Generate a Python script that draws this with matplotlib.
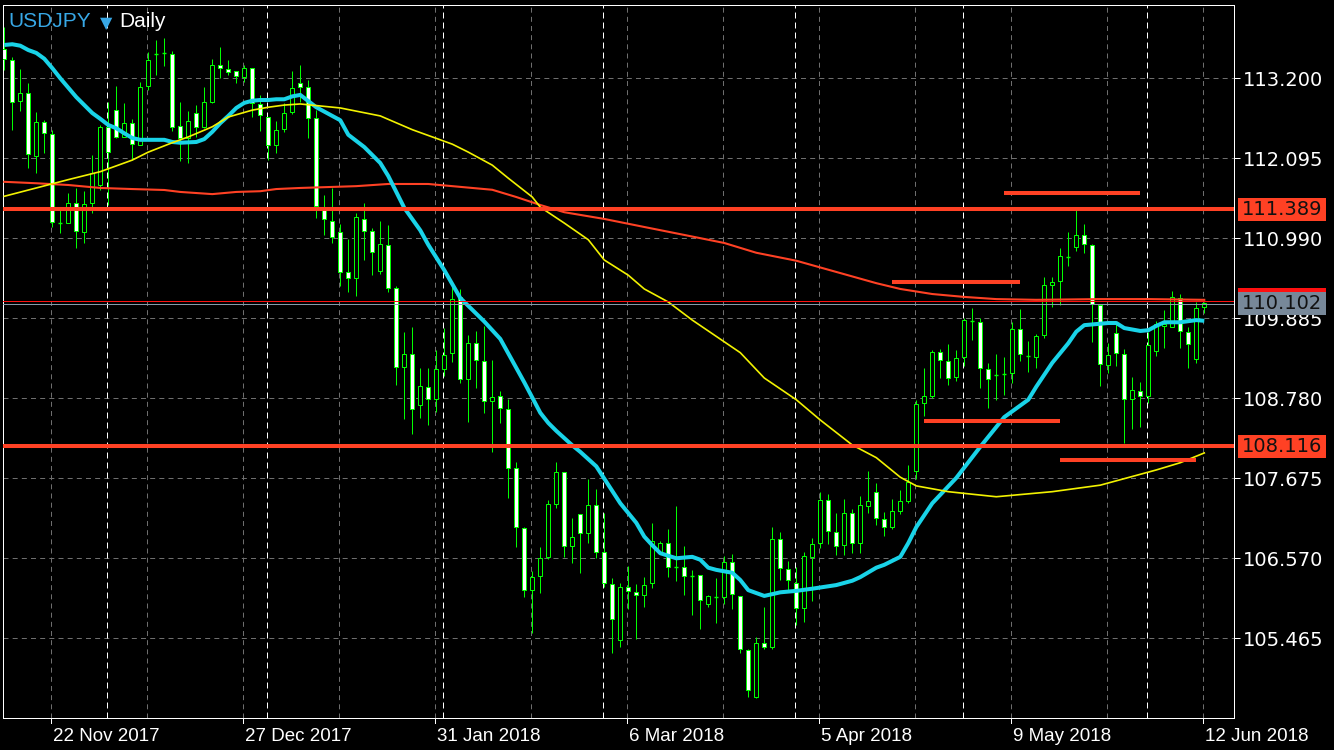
import matplotlib
matplotlib.use("Agg")
import matplotlib.pyplot as plt
import matplotlib.transforms as mtransforms
from matplotlib.patches import Rectangle
from matplotlib import font_manager

plt.rcParams['lines.scale_dashes'] = False

# ---------------- data ----------------
symbol = "USDJPY"
timeframe = "Daily"

bar_index = list(range(-6, 145))
opens = [113.60, 113.45, 112.89, 113.00, 112.13, 112.60, 112.43, 111.20, 111.20, 111.48,
         111.08, 111.48, 111.73, 112.53, 112.76, 112.39, 112.58, 112.28, 113.09, 113.54,
         113.55, 113.54, 112.54, 112.375, 112.72, 112.53, 112.87, 113.38, 113.33, 113.30,
         113.22, 113.34, 112.85, 112.67, 112.28, 112.50, 112.73, 113.14, 113.08, 112.65,
         111.38, 111.23, 111.08, 110.525, 110.44, 111.26, 111.09, 110.54, 110.90, 110.30,
         109.21, 109.39, 108.69, 108.94, 108.77, 109.185, 109.40, 110.18, 109.05, 109.545,
         109.295, 108.74, 108.81, 108.63, 107.82, 106.99, 106.13, 106.32, 106.59, 107.32,
         107.76, 106.74, 107.18, 106.92, 107.30, 106.66, 106.215, 105.44, 106.17, 106.105,
         106.06, 106.23, 106.64, 106.78, 106.45, 106.45, 106.32, 106.34, 105.94, 106.03,
         106.03, 106.52, 106.05, 105.30, 104.655, 105.40, 105.345, 106.84, 106.42, 106.23,
         105.88, 106.59, 106.78, 107.375, 106.93, 106.755, 107.19, 106.78, 107.29, 107.49,
         107.11, 107.00, 107.22, 107.36, 107.775, 108.715, 108.81, 109.42, 109.295, 109.07,
         109.35, 109.85, 109.83, 109.185, 109.10, 109.12, 109.13, 109.74, 109.36, 109.35,
         109.655, 110.345, 110.40, 110.73, 110.87, 111.03, 110.90, 110.07, 109.24, 109.68,
         109.39, 108.77, 108.88, 108.81, 109.43, 109.78, 109.765, 110.16, 109.70, 109.32,
         110.04]
highs = [113.91, 113.49, 113.33, 113.14, 112.73, 112.62, 112.49, 111.41, 111.62, 111.685,
         111.64, 112.14, 112.555, 112.87, 113.09, 112.86, 112.64, 113.15, 113.56, 113.73,
         113.76, 113.57, 112.87, 112.75, 112.83, 113.08, 113.47, 113.63, 113.45, 113.30,
         113.38, 113.34, 112.97, 112.67, 112.61, 112.86, 113.30, 113.38, 113.18, 112.76,
         111.59, 111.685, 111.19, 110.98, 111.34, 111.48, 111.13, 111.23, 111.17, 110.33,
         109.70, 109.77, 109.20, 109.20, 109.45, 109.75, 110.37, 110.29, 109.655, 109.71,
         109.78, 109.31, 108.88, 108.77, 107.90, 107.00, 106.395, 106.73, 107.375, 107.90,
         107.76, 107.13, 107.18, 107.66, 107.53, 107.19, 106.30, 106.23, 106.46, 106.215,
         106.31, 107.06, 106.81, 106.975, 107.29, 106.74, 106.41, 106.34, 106.06, 106.30,
         106.60, 106.63, 106.05, 105.32, 105.48, 105.90, 107.00, 106.93, 106.53, 106.45,
         106.66, 106.85, 107.49, 107.46, 107.19, 107.39, 107.25, 107.43, 107.775, 107.61,
         107.21, 107.39, 107.51, 107.86, 108.76, 109.20, 109.45, 109.46, 109.53, 109.45,
         109.89, 110.03, 109.89, 109.27, 109.39, 109.35, 109.83, 110.01, 109.57, 109.67,
         110.455, 110.455, 110.855, 111.08, 111.38, 111.19, 110.91, 110.08, 109.545, 109.81,
         109.46, 109.07, 109.00, 109.70, 109.85, 110.00, 110.26, 110.22, 109.765, 110.11,
         110.11]
lows = [113.31, 112.49, 112.75, 111.96, 111.89, 112.17, 111.15, 111.06, 111.20, 110.86,
        110.92, 111.34, 111.66, 111.45, 112.375, 112.39, 112.07, 112.28, 113.04, 113.25,
        113.37, 112.47, 112.06, 112.03, 112.39, 112.51, 112.86, 113.20, 113.25, 113.14,
        113.15, 112.67, 112.47, 112.07, 112.17, 112.46, 112.71, 112.87, 112.375, 111.27,
        111.04, 110.92, 110.33, 110.25, 110.19, 110.69, 110.48, 110.50, 110.25, 108.96,
        108.49, 108.29, 108.51, 108.41, 108.59, 109.09, 109.28, 108.99, 108.45, 108.92,
        108.57, 108.04, 108.44, 107.40, 106.73, 106.04, 105.54, 106.09, 106.56, 107.265,
        106.59, 106.505, 106.37, 106.78, 106.575, 106.17, 105.26, 105.345, 105.87, 105.46,
        105.90, 106.16, 106.64, 106.31, 106.26, 106.06, 105.79, 105.595, 105.90, 105.68,
        105.94, 105.87, 105.26, 104.655, 104.64, 105.32, 105.32, 106.27, 106.13, 105.65,
        105.69, 105.98, 106.71, 106.77, 106.61, 106.61, 106.64, 106.64, 107.19, 107.03,
        106.88, 106.975, 107.18, 107.33, 107.665, 108.54, 108.785, 109.06, 108.96, 109.02,
        109.23, 109.59, 108.92, 108.65, 108.76, 108.82, 108.99, 109.295, 109.14, 109.20,
        109.61, 110.04, 110.07, 110.61, 110.815, 110.79, 109.56, 108.95, 109.13, 109.23,
        108.16, 108.36, 108.38, 108.715, 109.36, 109.47, 109.765, 109.47, 109.20, 109.27,
        109.96]
closes = [113.47, 112.87, 113.00, 112.15, 112.60, 112.44, 111.22, 111.20, 111.48, 111.09,
          111.46, 111.89, 112.53, 112.18, 112.39, 112.58, 112.29, 113.08, 113.45, 113.54,
          113.55, 112.53, 112.375, 112.61, 112.53, 112.87, 113.38, 113.34, 113.29, 113.23,
          113.34, 112.86, 112.69, 112.28, 112.49, 112.72, 113.07, 113.08, 112.65, 111.44,
          111.26, 111.01, 110.525, 110.44, 111.29, 111.09, 110.80, 110.91, 110.30, 109.21,
          109.39, 108.63, 108.95, 108.77, 109.185, 109.38, 110.15, 109.05, 109.545, 109.31,
          108.74, 108.80, 108.65, 107.82, 107.00, 106.13, 106.31, 106.575, 107.32, 107.76,
          106.74, 106.865, 106.92, 107.30, 106.66, 106.23, 105.73, 106.17, 106.12, 106.06,
          106.20, 106.81, 106.78, 106.45, 106.45, 106.32, 106.32, 105.995, 106.05, 106.03,
          106.52, 106.08, 105.32, 104.75, 105.40, 105.345, 106.84, 106.44, 106.27, 105.88,
          106.60, 106.77, 107.375, 106.95, 106.74, 107.19, 106.78, 107.30, 107.36, 107.13,
          107.00, 107.22, 107.36, 107.62, 108.70, 108.81, 109.42, 109.31, 109.06, 109.34,
          109.86, 109.85, 109.20, 109.05, 109.10, 109.12, 109.74, 109.39, 109.36, 109.64,
          110.345, 110.39, 110.745, 110.73, 111.03, 110.91, 110.08, 109.25, 109.38, 109.40,
          108.77, 108.895, 108.81, 109.52, 109.81, 109.81, 110.18, 109.71, 109.53, 110.03,
          110.102]

date_label_index = [0, 24, 48, 72, 96, 120, 144]
date_labels = ["22 Nov 2017", "27 Dec 2017", "31 Jan 2018", "6 Mar 2018",
               "5 Apr 2018", "9 May 2018", "12 Jun 2018"]
grid_index = list(range(0, 145, 12))
month_start_index = [7, 27, 49, 69, 93, 114, 137]
price_ticks = [105.465, 106.570, 107.675, 108.780, 109.885, 110.990, 112.095, 113.200]

# fast MA (cyan)
fast_idx = [-6, -5, -4, -3, -2, -1, 0, 1, 2, 3, 4, 5, 6, 7, 8, 9, 10, 11, 14, 15, 16, 18, 19,
            20, 21, 22, 23, 24, 25, 26, 27, 28, 29, 30, 31, 33, 36, 37, 39, 41, 42, 44, 46, 47,
            49, 51, 54, 55, 56, 58, 59, 61, 62, 63, 65, 66, 68, 69, 70, 71, 73, 74, 75, 76, 78,
            80, 81, 82, 83, 85, 86, 87, 89, 91, 93, 95, 98, 100, 101, 103, 104, 106, 107, 108,
            110, 113, 116, 119, 122, 123, 125, 127, 128, 129, 132, 133, 134, 136, 137, 138,
            139, 141, 143, 144]
fast_ma = [113.66, 113.67, 113.65, 113.59, 113.55, 113.47, 113.34, 113.20, 113.07, 112.94,
           112.83, 112.72, 112.64, 112.555, 112.51, 112.44, 112.375, 112.35, 112.35, 112.32,
           112.31, 112.32, 112.36, 112.46, 112.58, 112.68, 112.79, 112.86, 112.89, 112.90,
           112.90, 112.91, 112.91, 112.95, 112.97, 112.80, 112.62, 112.42, 112.25, 112.03,
           111.85, 111.41, 111.10, 110.90, 110.55, 110.165, 109.84, 109.72, 109.60, 109.20,
           109.00, 108.58, 108.44, 108.33, 108.13, 108.04, 107.84, 107.67, 107.50, 107.33,
           107.06, 106.87, 106.75, 106.64, 106.57, 106.59, 106.55, 106.44, 106.41, 106.37,
           106.27, 106.13, 106.05, 106.10, 106.12, 106.15, 106.20, 106.26, 106.31, 106.44,
           106.48, 106.59, 106.78, 107.00, 107.33, 107.68, 108.11, 108.52, 108.76, 108.94,
           109.27, 109.54, 109.70, 109.79, 109.82, 109.82, 109.75, 109.71, 109.72, 109.78,
           109.83, 109.83, 109.86, 109.85]

# medium MA (yellow)
mid_idx = [-6, -2, 2, 6, 10, 12, 15, 17, 20, 22, 25, 27, 29, 31, 36, 41, 45, 50, 52, 55, 57,
           60, 61, 64, 67, 69, 72, 74, 77, 80, 84, 86, 89, 93, 96, 100, 103, 106, 108, 112,
           118, 125, 131, 138, 141, 144]
mid_ma = [111.57, 111.685, 111.80, 111.91, 112.07, 112.18, 112.31, 112.39, 112.53, 112.665,
          112.76, 112.80, 112.83, 112.845, 112.79, 112.68, 112.49, 112.29, 112.18, 112.00,
          111.82, 111.56, 111.42, 111.20, 110.97, 110.69, 110.48, 110.29, 110.11, 109.86,
          109.56, 109.41, 109.06, 108.76, 108.48, 108.135, 107.96, 107.69, 107.57, 107.49,
          107.42, 107.49, 107.58, 107.79, 107.89, 108.025]

# slow MA (red)
slow_idx = [-6, -2, 2, 6, 10, 14, 16, 20, 23, 26, 28, 31, 38, 42, 47, 51, 55, 58, 61, 64, 69,
            74, 79, 84, 88, 93, 98, 103, 106, 110, 114, 118, 123, 131, 137, 144]
slow_ma = [111.77, 111.75, 111.726, 111.685, 111.67, 111.657, 111.63, 111.60, 111.63, 111.64,
           111.67, 111.685, 111.71, 111.74, 111.74, 111.70, 111.66, 111.56, 111.45, 111.35,
           111.257, 111.146, 111.036, 110.925, 110.79, 110.68, 110.525, 110.37, 110.29, 110.22,
           110.18, 110.15, 110.14, 110.15, 110.15, 110.14]

level_lines = [111.389, 108.116]
thin_level = 110.13
bid_price = 110.102

seg_start = [119, 105, 109, 126]
seg_end = [136, 121, 126, 143]
seg_price = [111.62, 110.39, 108.46, 107.93]

# ---------------- style ----------------
W, H = 1334, 750
BG = "black"
LIME = "#00ff00"
CYAN = "#19d3e8"
YELLOW = "#f2f200"
ORANGE_RED = "#ff4124"
GRID = "#6e6e6e"
BLUE = "#38a8e6"
px = 0.72  # one pixel in points at 100 dpi


def has_font(name):
    try:
        font_manager.findfont(font_manager.FontProperties(family=name), fallback_to_default=False)
        return True
    except Exception:
        return False


if has_font("Liberation Sans Narrow"):
    date_family, date_size = "Liberation Sans Narrow", 16
elif has_font("DejaVu Sans Condensed"):
    date_family, date_size = "DejaVu Sans Condensed", 14
else:
    date_family, date_size = "Liberation Sans", 13.5

fig = plt.figure(figsize=(W / 100, H / 100), dpi=100, facecolor=BG)
left_px, right_px, top_px, bottom_px = 3, 1234, 5, 718
ax = fig.add_axes([left_px / W, 1 - bottom_px / H, (right_px - left_px) / W, (bottom_px - top_px) / H])
ax.set_facecolor(BG)

x0 = -6.16
ax.set_xlim(x0, x0 + (right_px - left_px) / 8.0)
ax.set_ylim(104.364, 104.364 + (bottom_px - top_px) / 72.4)

for s in ax.spines.values():
    s.set_color("white")
    s.set_linewidth(px)

# grid
for p in price_ticks:
    ax.axhline(p, color=GRID, lw=px, ls=(0, (3.6, 3.0)), zorder=1)
for g in grid_index:
    ax.axvline(g - 0.12, color=GRID, lw=px, ls=(0, (3.6, 3.0)), zorder=1)
for m in month_start_index:
    ax.axvline(m - 0.12, color="white", lw=px, ls=(0, (4.3, 2.9)), zorder=1.2)

# candles
bw = 0.5
for i, o, h, l, c in zip(bar_index, opens, highs, lows, closes):
    ax.vlines(i, l, h, color=LIME, lw=px, zorder=2)
    if abs(c - o) < 0.006:
        ax.hlines(o, i - bw / 2, i + bw / 2, color=LIME, lw=px * 1.4, zorder=3)
    else:
        face = "white" if c < o else "black"
        ax.add_patch(Rectangle((i - bw / 2, min(o, c)), bw, abs(c - o),
                               facecolor=face, edgecolor=LIME, lw=px, zorder=3))

# moving averages
ax.plot(slow_idx, slow_ma, color=ORANGE_RED, lw=1.5, zorder=4)
ax.plot(fast_idx, fast_ma, color=CYAN, lw=2.9, zorder=4.5, solid_capstyle="butt")
ax.plot(mid_idx, mid_ma, color=YELLOW, lw=1.2, zorder=4.8)

# horizontal levels
for lv in level_lines:
    ax.axhline(lv, color=ORANGE_RED, lw=2.9, zorder=6)
ax.axhline(thin_level, color="#ff1010", lw=px, zorder=6)
ax.axhline(bid_price - 0.02, color="#8899aa", lw=px, zorder=6)
ax.hlines(seg_price, seg_start, seg_end, color=ORANGE_RED, lw=2.9, zorder=6)

# right price axis
ax.yaxis.tick_right()
ax.set_yticks(price_ticks)
ax.set_yticklabels([f"{p:.3f}" for p in price_ticks])
ax.tick_params(axis="y", colors="white", length=4, width=px, pad=2.5, labelsize=14)
for t in ax.get_yticklabels():
    t.set_fontfamily("DejaVu Sans")
ax.set_xticks([])

# right label boxes
fig_y = mtransforms.blended_transform_factory(fig.transFigure, ax.transData)
bx0, bx1 = 1238 / W, 1326 / W
half = 11.5 / 72.4


def price_box(price, color, text, tcolor="#111111"):
    ax.add_patch(Rectangle((bx0, price - half), bx1 - bx0, 2 * half, transform=fig_y,
                           facecolor=color, edgecolor="none", clip_on=False, zorder=11))
    if text:
        ax.text(1242 / W, price, text, transform=fig_y, color=tcolor, fontsize=14,
                family="DejaVu Sans", va="center", ha="left", clip_on=False, zorder=12)


for lv in level_lines:
    price_box(lv, ORANGE_RED, f"{lv:.3f}")
price_box(thin_level + 0.02, "#ff1010", None)
price_box(bid_price - 0.01, "#778899", f"{bid_price:.3f}")

# bottom date labels
data_fig = mtransforms.blended_transform_factory(ax.transData, fig.transFigure)
shift = mtransforms.ScaledTranslation(2 / 100, 0, fig.dpi_scale_trans)
for i, lab in zip(date_label_index, date_labels):
    ax.plot([i - 0.12, i - 0.12], [1 - bottom_px / H, 1 - (bottom_px + 5) / H],
            transform=data_fig, color="white", lw=px, clip_on=False, zorder=10)
    ax.text(i - 0.12, 1 - 741 / H, lab, transform=data_fig + shift, color="white",
            fontsize=date_size, family=[date_family, "DejaVu Sans"],
            va="baseline", ha="left", clip_on=False)

# title
fig.text(8 / W, 1 - 27.3 / H, symbol, color=BLUE, fontsize=15,
         family=["Liberation Sans", "DejaVu Sans"], va="baseline", ha="left")
fig.text(99.5 / W, 1 - 28 / H, "\u25bc", color=BLUE, fontsize=11.5,
         family=["DejaVu Sans"], va="baseline", ha="left")
fig.text(119 / W, 1 - 27.3 / H, timeframe, color="white", fontsize=15,
         family=["Liberation Sans", "DejaVu Sans"], va="baseline", ha="left")

fig.savefig("out.png", dpi=100, facecolor=BG)
